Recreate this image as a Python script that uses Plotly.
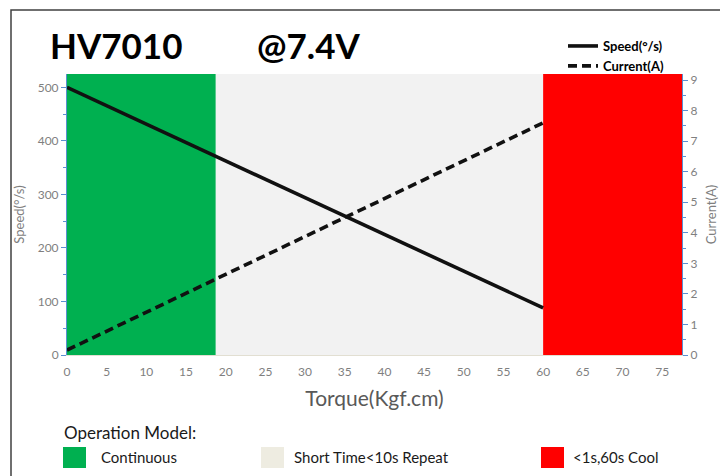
import plotly.graph_objects as go

# ---- data ----
torque = [0, 60]
speed = [500, 88]
current = [0.16, 7.6]

band_names = ["Continuous", "Short Time<10s Repeat", "<1s,60s Cool"]
band_start = [0, 18.75, 60]
band_end = [18.75, 60, 77.5]
band_colors = ["#00b050", "#f2f2f2", "#ff0000"]
swatch_colors = ["#00b050", "#eeece1", "#ff0000"]

x_ticks = list(range(0, 80, 5))
speed_ticks = list(range(0, 600, 100))
current_ticks = list(range(0, 10))

# page body has an 8px margin; the figure is sized to fill the rest of the window
OFF = 8
W, H = 728 - OFF, 476 - OFF
PL, PR, PT, PB = 67, 682, 74, 355  # plot area in window pixels
L, T = PL - OFF, PT - OFF
R, B = W - (PR - OFF), H - (PB - OFF)
PW = PR - PL
PH = PB - PT


def px(x):
    return (x - PL) / PW


def py(y):
    return (PB - y) / PH


FONT = "Lato"
GRAY = "#7f7f7f"
AXIS_BLUE = "#5b8fd0"

fig = go.Figure()

fig.add_trace(go.Scatter(
    x=torque, y=speed, mode="lines", name="Speed(°/s)",
    line=dict(color="#111111", width=3.6), yaxis="y",
))
fig.add_trace(go.Scatter(
    x=torque, y=current, mode="lines", name="Current(A)",
    line=dict(color="#111111", width=3.6, dash="9px,5px"), yaxis="y2",
))

shapes = []
for s, e, c in zip(band_start, band_end, band_colors):
    shapes.append(dict(type="rect", xref="x", yref="paper", x0=s, x1=e, y0=0, y1=1,
                       fillcolor=c, line=dict(width=0), layer="below"))

# outer frame
shapes.append(dict(type="rect", xref="paper", yref="paper",
                   x0=px(11), x1=px(724), y0=py(490), y1=py(10),
                   line=dict(color="#404040", width=1.5), fillcolor="rgba(0,0,0,0)"))

annotations = [
    dict(text="<b>HV7010</b>", x=px(48), y=py(45), xref="paper", yref="paper",
         xanchor="left", yanchor="middle", showarrow=False,
         font=dict(family=FONT, size=35, color="#000000")),
    dict(text="<b>@7.4V</b>", x=px(255), y=py(45), xref="paper", yref="paper",
         xanchor="left", yanchor="middle", showarrow=False,
         font=dict(family=FONT, size=35, color="#000000")),
    dict(text="Operation Model:", x=px(62), y=py(432), xref="paper", yref="paper",
         xanchor="left", yanchor="middle", showarrow=False,
         font=dict(family=FONT, size=17, color="#1a1a1a")),
]

sw_x = [63, 261, 541]
lab_x = [99, 292, 571]
for name, col, sx, lx in zip(band_names, swatch_colors, sw_x, lab_x):
    shapes.append(dict(type="rect", xref="paper", yref="paper",
                       x0=px(sx), x1=px(sx + 23), y0=py(468), y1=py(447),
                       fillcolor=col, line=dict(width=0)))
    annotations.append(dict(text=name, x=px(lx), y=py(457), xref="paper", yref="paper",
                            xanchor="left", yanchor="middle", showarrow=False,
                            font=dict(family=FONT, size=15, color="#1a1a1a")))

fig.update_layout(
    width=W, height=H,
    margin=dict(l=L, r=R, t=T, b=B, autoexpand=False),
    paper_bgcolor="white", plot_bgcolor="white",
    font=dict(family=FONT, color=GRAY),
    shapes=shapes, annotations=annotations,
    showlegend=True,
    legend=dict(x=px(563), y=py(31), xanchor="left", yanchor="top",
                bgcolor="rgba(0,0,0,0)", tracegroupgap=0,
                font=dict(family=FONT, size=13, color="#000000", weight="bold")),
    xaxis=dict(range=[0, 77.5], tickvals=x_ticks, showgrid=False, zeroline=False,
               showline=True, linecolor="#e2dfd2", linewidth=1, ticks="",
               ticklabelstandoff=6,
               tickfont=dict(size=12, color=GRAY),
               title=dict(text="Torque(Kgf.cm)", font=dict(size=21, color="#595959"), standoff=12)),
    yaxis=dict(range=[0, 525], tickvals=speed_ticks, showgrid=False, zeroline=False,
               showline=True, linecolor=AXIS_BLUE, linewidth=1,
               ticks="outside", ticklen=5, tickcolor=AXIS_BLUE,
               minor=dict(ticks="outside", ticklen=3, tickcolor=AXIS_BLUE, dtick=50, tick0=0),
               tickfont=dict(size=12, color=GRAY),
               title=dict(text="Speed(°/s)", font=dict(size=13, color=GRAY), standoff=10)),
    yaxis2=dict(range=[0, 9.2], tickvals=current_ticks, overlaying="y", side="right",
                showgrid=False, zeroline=False,
                showline=True, linecolor=AXIS_BLUE, linewidth=1,
                ticks="outside", ticklen=5, tickcolor=AXIS_BLUE,
                minor=dict(ticks="outside", ticklen=3, tickcolor=AXIS_BLUE, dtick=0.5, tick0=0),
                tickfont=dict(size=12, color=GRAY),
                title=dict(text="Current(A)", font=dict(size=13, color=GRAY), standoff=10)),
)

fig.write_html("out.html")
